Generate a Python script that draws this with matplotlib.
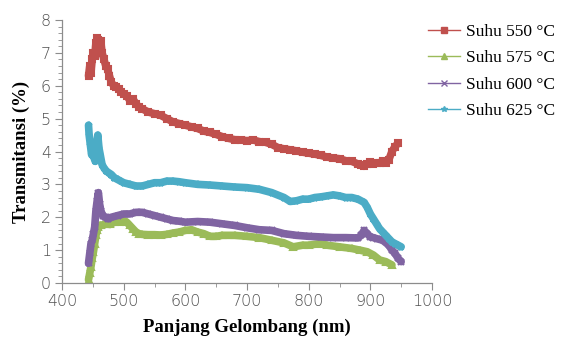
import matplotlib
matplotlib.use("Agg")
import matplotlib.pyplot as plt
from matplotlib.lines import Line2D
from matplotlib.ticker import MultipleLocator

# ---- data ----
labels = ["Suhu 550 °C", "Suhu 575 °C", "Suhu 600 °C", "Suhu 625 °C"]

x550 = [443, 445, 447, 449, 451, 453, 455, 457, 459, 461, 463, 465, 468, 471, 474, 477, 480, 484, 488, 492,
        496, 500, 505, 510, 515, 520, 525, 530, 540, 550, 560, 570, 580, 590, 600, 610, 620, 630, 640, 650,
        660, 670, 680, 690, 700, 710, 720, 730, 740, 750, 760, 770, 780, 790, 800, 810, 820, 830, 840, 850,
        860, 870, 880, 885, 890, 895, 900, 905, 910, 915, 920, 925, 930, 935, 940, 945]
y550 = [6.3, 6.6, 6.4, 6.8, 7.0, 6.9, 7.3, 7.45, 7.4, 7.3, 7.35, 7.0, 6.8, 6.6, 6.5, 6.3, 6.1, 6.0, 5.95, 5.9,
        5.8, 5.75, 5.7, 5.55, 5.6, 5.45, 5.35, 5.3, 5.2, 5.15, 5.1, 5.0, 4.9, 4.85, 4.8, 4.75, 4.7, 4.62, 4.58, 4.52,
        4.45, 4.4, 4.36, 4.35, 4.33, 4.35, 4.3, 4.28, 4.22, 4.12, 4.08, 4.05, 4.02, 3.98, 3.95, 3.92, 3.88, 3.83, 3.8, 3.78,
        3.72, 3.7, 3.62, 3.6, 3.55, 3.62, 3.68, 3.62, 3.65, 3.66, 3.7, 3.65, 3.75, 4.0, 4.15, 4.25]

x575 = [443, 445, 447, 449, 451, 453, 455, 457, 459, 461, 464, 468, 472, 478, 485, 492, 500, 505, 510, 515,
        520, 525, 530, 540, 550, 560, 570, 580, 590, 600, 610, 620, 630, 640, 650, 660, 680, 700, 720, 740,
        760, 775, 790, 800, 818, 830, 850, 870, 883, 895, 905, 915, 925, 935]
y575 = [0.1, 0.3, 0.5, 0.75, 0.95, 1.2, 1.45, 1.6, 1.7, 1.75, 1.75, 1.78, 1.8, 1.78, 1.85, 1.85, 1.9, 1.85, 1.75, 1.65,
        1.55, 1.5, 1.48, 1.47, 1.47, 1.46, 1.48, 1.52, 1.55, 1.6, 1.62, 1.55, 1.5, 1.42, 1.42, 1.45, 1.45, 1.42, 1.38, 1.3,
        1.22, 1.1, 1.15, 1.15, 1.2, 1.15, 1.1, 1.05, 1.0, 0.95, 0.85, 0.7, 0.65, 0.55]

x600 = [443, 445, 447, 449, 451, 453, 455, 457, 459, 461, 463, 466, 470, 475, 480, 490, 500, 510, 520, 530,
        540, 550, 560, 570, 580, 590, 600, 620, 640, 660, 680, 700, 720, 740, 760, 780, 800, 820, 840, 860,
        880, 885, 890, 895, 900, 905, 910, 920, 930, 935, 940, 945, 950]
y600 = [0.6, 0.9, 1.2, 1.3, 1.5, 1.7, 2.2, 2.5, 2.75, 2.4, 2.2, 2.05, 2.0, 1.95, 2.0, 2.05, 2.1, 2.1, 2.15, 2.15,
        2.1, 2.05, 2.0, 1.95, 1.9, 1.88, 1.85, 1.87, 1.85, 1.8, 1.75, 1.68, 1.62, 1.6, 1.5, 1.45, 1.42, 1.4, 1.38, 1.38,
        1.37, 1.45, 1.6, 1.5, 1.4, 1.38, 1.35, 1.3, 1.15, 1.0, 0.9, 0.75, 0.65]

x625 = [443, 444, 446, 448, 450, 452, 454, 456, 458, 460, 462, 465, 468, 472, 476, 480, 485, 490, 495, 500,
        510, 520, 530, 540, 550, 560, 570, 580, 590, 600, 620, 640, 660, 680, 700, 720, 740, 760, 770, 780,
        790, 800, 810, 820, 830, 840, 850, 860, 870, 880, 890, 895, 900, 905, 910, 915, 920, 925, 930, 935,
        940, 945, 950]
y625 = [4.8, 4.5, 4.2, 3.9, 4.1, 3.8, 3.7, 4.2, 4.5, 4.1, 3.9, 3.6, 3.5, 3.4, 3.35, 3.3, 3.2, 3.15, 3.1, 3.05,
        3.0, 2.95, 2.95, 3.0, 3.05, 3.05, 3.1, 3.1, 3.08, 3.05, 3.0, 2.98, 2.95, 2.92, 2.9, 2.85, 2.75, 2.6, 2.48, 2.5,
        2.55, 2.55, 2.6, 2.62, 2.65, 2.68, 2.65, 2.6, 2.6, 2.55, 2.45, 2.3, 2.1, 1.95, 1.8, 1.65, 1.55, 1.45, 1.35, 1.25,
        1.2, 1.15, 1.1]

xs = [x550, x575, x600, x625]
ys = [y550, y575, y600, y625]
colors = ["#C0504D", "#9BBB59", "#8064A2", "#4BACC6"]
markers = ["s", "^", "x", "*"]

xticks = [400, 500, 600, 700, 800, 900, 1000]
yticks = [0, 1, 2, 3, 4, 5, 6, 7, 8]

fig = plt.figure(figsize=(5.63, 3.40), dpi=100)
ax = fig.add_axes([62/563, 1-283/340, (432-62)/563, (283-20)/340])

for x, y, c, m in zip(xs, ys, colors, markers):
    ax.plot(x, y, color=c, lw=5.5, marker=m, ms=5, mew=1.5, mfc=c, mec=c,
            solid_joinstyle="round", solid_capstyle="round")

ax.set_xlim(400, 1000)
ax.set_ylim(0, 8)
ax.set_xticks(xticks)
ax.set_yticks(yticks)
ax.xaxis.set_minor_locator(MultipleLocator(50))
ax.yaxis.set_minor_locator(MultipleLocator(0.2))
for s in ["top", "right"]:
    ax.spines[s].set_visible(False)
for s in ["left", "bottom"]:
    ax.spines[s].set_color("#8C8C8C")
    ax.spines[s].set_linewidth(0.9)
ax.tick_params(axis="both", which="major", length=5, color="#8C8C8C", labelsize=11.5, labelcolor="#505050", pad=3)
ax.tick_params(axis="both", which="minor", length=3, color="#8C8C8C")
for lab in ax.get_xticklabels() + ax.get_yticklabels():
    lab.set_family("DejaVu Sans")
    lab.set_fontweight("light")

ax.set_xlabel("Panjang Gelombang (nm)", family="Liberation Serif", fontweight="bold", fontsize=13.5, labelpad=7)
ax.set_ylabel("Transmitansi (%)", family="Liberation Serif", fontweight="bold", fontsize=13.5, labelpad=8)

handles = [Line2D([0], [0], color=c, lw=1, marker=m, ms=4, mfc=c, mec=c) for c, m in zip(colors, markers)]
fig.legend(handles, labels, loc="upper left", bbox_to_anchor=(428/563, 1-24/340), frameon=False,
           prop={"family": "Liberation Serif", "size": 12.5}, handlelength=1.85, labelspacing=0.58,
           handletextpad=0.35, borderaxespad=0, borderpad=0)

fig.savefig("out.png", dpi=100)
